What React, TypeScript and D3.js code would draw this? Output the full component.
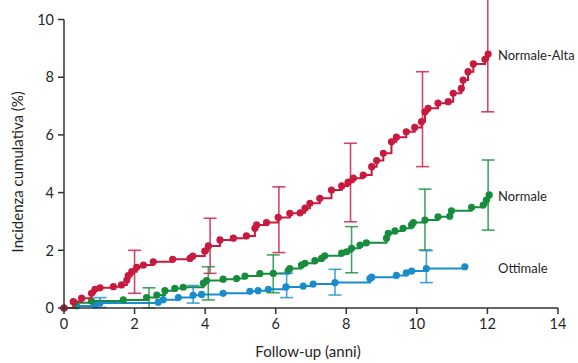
import React from "react";
import * as d3 from "d3";

// Cumulative incidence (%) by follow-up year, one step curve per blood-pressure class
const normaleAlta: [number, number][] = [
  [0, 0], [0.26, 0.22], [0.5, 0.34], [0.78, 0.51], [0.88, 0.65], [1.02, 0.7], [1.4, 0.74],
  [1.63, 0.8], [1.78, 0.97], [1.82, 1.12], [1.92, 1.26], [2.06, 1.41], [2.25, 1.49], [2.53, 1.6],
  [3.08, 1.69], [3.57, 1.72], [3.65, 1.8], [3.99, 1.97], [4.09, 2.15], [4.42, 2.36], [4.8, 2.42],
  [5.17, 2.5], [5.41, 2.76], [5.46, 2.88], [5.74, 2.96], [6.07, 3.14], [6.4, 3.28], [6.69, 3.3],
  [6.83, 3.46], [6.97, 3.63], [7.25, 3.8], [7.58, 4.09], [7.87, 4.23], [8.05, 4.36], [8.2, 4.5],
  [8.48, 4.61], [8.72, 4.9], [8.86, 5.11], [9.05, 5.36], [9.28, 5.76], [9.42, 5.92], [9.7, 6.11],
  [9.94, 6.26], [10.13, 6.46], [10.23, 6.8], [10.32, 6.92], [10.6, 7.1], [10.89, 7.15],
  [11.03, 7.44], [11.26, 7.61], [11.31, 7.9], [11.45, 8.19], [11.6, 8.46], [11.93, 8.62],
  [12.02, 8.8],
];

const normale: [number, number][] = [
  [0, 0], [0.31, 0.18], [0.78, 0.24], [1.68, 0.28], [2.34, 0.36], [2.63, 0.45], [2.86, 0.6],
  [3.14, 0.68], [3.38, 0.72], [3.95, 0.86], [4.04, 0.95], [4.51, 1.0], [4.89, 1.02], [5.13, 1.11],
  [5.55, 1.19], [5.93, 1.2], [6.35, 1.29], [6.4, 1.37], [6.73, 1.49], [6.83, 1.55], [7.11, 1.64],
  [7.3, 1.72], [7.39, 1.81], [7.87, 1.9], [8.01, 1.95], [8.15, 2.07], [8.39, 2.18], [8.57, 2.26],
  [9.14, 2.42], [9.19, 2.59], [9.38, 2.67], [9.61, 2.76], [9.85, 2.88], [9.9, 2.96], [10.23, 3.05],
  [10.6, 3.16], [10.93, 3.18], [10.98, 3.37], [11.55, 3.49], [11.88, 3.57], [11.97, 3.74],
  [12.05, 3.92],
];

const ottimale: [number, number][] = [
  [0, 0], [0.36, 0.07], [0.88, 0.1], [1.02, 0.17], [2.67, 0.2], [2.81, 0.29], [3.24, 0.36],
  [3.66, 0.44], [3.9, 0.47], [4.51, 0.51], [5.27, 0.58], [5.5, 0.6], [5.79, 0.65], [6.29, 0.73],
  [6.78, 0.76], [7.06, 0.83], [7.68, 0.88], [8.67, 1.02], [8.72, 1.07], [9.42, 1.13], [9.7, 1.22],
  [9.85, 1.28], [10.27, 1.37], [11.36, 1.43],
];

// Confidence intervals: [year, lower, upper]
const normaleAltaCI: [number, number, number][] = [
  [2.0, 0.51, 2.0], [4.14, 1.2, 3.11], [6.09, 1.92, 4.2], [8.12, 2.99, 5.71],
  [10.16, 4.9, 8.19], [12.01, 6.8, 11.2],
];
const normaleCI: [number, number, number][] = [
  [2.41, 0, 0.7], [4.09, 0.28, 1.43], [5.93, 0.53, 1.84], [8.15, 1.22, 2.82],
  [10.23, 2.01, 4.12], [12.02, 2.7, 5.13],
];
const ottimaleCI: [number, number, number][] = [
  [1.02, 0.02, 0.36], [3.66, 0.17, 0.78], [6.31, 0.36, 1.2], [7.68, 0.45, 1.34],
  [10.27, 0.88, 1.99],
];

const xTicks = [0, 2, 4, 6, 8, 10, 12, 14];
const yTicks = [0, 2, 4, 6, 8, 10];

const seriesNames = ["Normale-Alta", "Normale", "Ottimale"];

const W = 578;
const H = 363;
const FONT = "Lato, 'Open Sans', sans-serif";
const TEXT = "#262626";

export default function App() {
  const x = d3.scaleLinear().domain([0, 14]).range([64, 558]);
  const y = d3.scaleLinear().domain([0, 10]).range([308, 19.5]);

  const line = d3
    .line<[number, number]>()
    .x((d) => x(d[0]))
    .y((d) => y(d[1]))
    .curve(d3.curveStepAfter);

  const series = [
    { name: seriesNames[0], data: normaleAlta, ci: normaleAltaCI, color: "#c8193f" },
    { name: seriesNames[1], data: normale, ci: normaleCI, color: "#168c3c" },
    { name: seriesNames[2], data: ottimale, ci: ottimaleCI, color: "#1a8bcb" },
  ];
  const labelYs = [55, 196, 268];

  const cap = 6.5;

  return (
    <div style={{ position: "absolute", left: 0, top: 0 }}>
      <svg width={W} height={H} style={{ display: "block", fontFamily: FONT }}>
        <defs>
          <clipPath id="frame">
            <rect x={0} y={0} width={W} height={H} />
          </clipPath>
        </defs>

        {/* step curves and event markers, drawn back to front */}
        {series
          .slice()
          .reverse()
          .map((s) => (
            <g key={s.name}>
              <path d={line(s.data) ?? ""} fill="none" stroke={s.color} strokeWidth={2} />
              {s.data.map((d, i) => (
                <circle key={i} cx={x(d[0])} cy={y(d[1])} r={3.6} fill={s.color} />
              ))}
            </g>
          ))}

        {/* confidence interval bars */}
        <g clipPath="url(#frame)">
          {series.map((s) =>
            s.ci.map((c, i) => (
              <g key={s.name + i} stroke={s.color} strokeWidth={1.6} strokeOpacity={0.8}>
                <line x1={x(c[0])} x2={x(c[0])} y1={y(c[1])} y2={y(c[2])} />
                <line x1={x(c[0]) - cap} x2={x(c[0]) + cap} y1={y(c[1])} y2={y(c[1])} />
                <line x1={x(c[0]) - cap} x2={x(c[0]) + cap} y1={y(c[2])} y2={y(c[2])} />
              </g>
            ))
          )}
        </g>

        {/* axes */}
        <g stroke="#333" strokeWidth={1.5} fill="none">
          <line x1={x(0)} x2={x(0)} y1={y(10)} y2={y(0)} />
          <line x1={x(0)} x2={x(14)} y1={y(0)} y2={y(0)} />
          {yTicks.map((t) => (
            <line key={"yt" + t} x1={x(0) - 6} x2={x(0)} y1={y(t)} y2={y(t)} />
          ))}
          {xTicks.map((t) => (
            <line key={"xt" + t} x1={x(t)} x2={x(t)} y1={y(0)} y2={y(0) + 6} />
          ))}
        </g>

        {yTicks.map((t) => (
          <text
            key={"yl" + t}
            x={x(0) - 10}
            y={y(t)}
            dy="0.36em"
            textAnchor="end"
            fontSize={14.5}
            fill={TEXT}
          >
            {t}
          </text>
        ))}
        {xTicks.map((t) => (
          <text
            key={"xl" + t}
            x={x(t)}
            y={y(0) + 21}
            textAnchor="middle"
            fontSize={14.5}
            fill={TEXT}
          >
            {t}
          </text>
        ))}

        <text
          transform={`translate(23, ${(y(0) + y(10)) / 2 + 8}) rotate(-90)`}
          textAnchor="middle"
          fontSize={15}
          fill={TEXT}
        >
          Incidenza cumulativa (%)
        </text>
        <text x={308} y={357} textAnchor="middle" fontSize={15} fill={TEXT}>
          Follow-up (anni)
        </text>

        {series.map((s, i) => (
          <text
            key={"lab" + s.name}
            x={498}
            y={labelYs[i]}
            dy="0.36em"
            fontSize={13}
            fill={TEXT}
          >
            {s.name}
          </text>
        ))}
      </svg>
    </div>
  );
}
